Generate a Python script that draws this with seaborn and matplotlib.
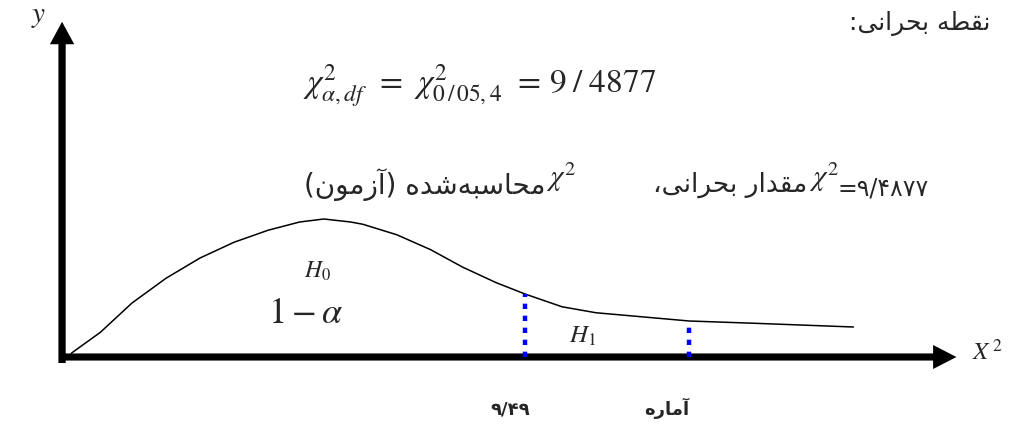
# Chi-square critical region sketch
# H0 / H1 regions with critical value and test statistic

import numpy as np
import pandas as pd
import matplotlib
matplotlib.use('Agg')
import matplotlib.pyplot as plt
import seaborn as sb

# curve (x in chi-square units, y as density)
curve_x = [0.15, 0.75, 1.4, 2.1, 2.8, 3.5, 4.2, 4.85, 5.35, 5.9, 6.15, 6.85,
           7.55, 8.2, 8.9, 9.49, 10.25, 10.95, 11.65, 12.87, 14.2, 16.25]
curve_y = [0.005, 0.033, 0.072, 0.105, 0.132, 0.153, 0.169, 0.180, 0.184, 0.180,
           0.177, 0.163, 0.143, 0.120, 0.099, 0.084, 0.067, 0.059, 0.055, 0.048,
           0.045, 0.040]

crit_value = 9.49        # critical value
stat_value = 12.87       # computed statistic (position only)

title_fa = 'نقطه بحرانی:'
formula = (r'$\chi^{2}_{\alpha,df}\;\, = \;\,\chi^{2}_{0\,/\,05,4}\;\, ='
           r'\, 9\;/\;4877$')
computed_fa = 'محاسبه\u200cشده (آزمون)'
critical_fa = 'مقدار بحرانی،'
critical_num = '=۹/۴۸۷۷'
crit_label = '۹/۴۹'
stat_label = 'آماره'

# Arabic presentation forms: isolated, final, initial, medial
FORMS = {
    '\u0622': ('\uFE81', '\uFE82', None, None),
    '\u0627': ('\uFE8D', '\uFE8E', None, None),
    '\u0628': ('\uFE8F', '\uFE90', '\uFE91', '\uFE92'),
    '\u062D': ('\uFEA1', '\uFEA2', '\uFEA3', '\uFEA4'),
    '\u062F': ('\uFEA9', '\uFEAA', None, None),
    '\u0631': ('\uFEAD', '\uFEAE', None, None),
    '\u0632': ('\uFEAF', '\uFEB0', None, None),
    '\u0633': ('\uFEB1', '\uFEB2', '\uFEB3', '\uFEB4'),
    '\u0634': ('\uFEB5', '\uFEB6', '\uFEB7', '\uFEB8'),
    '\u0637': ('\uFEC1', '\uFEC2', '\uFEC3', '\uFEC4'),
    '\u0642': ('\uFED5', '\uFED6', '\uFED7', '\uFED8'),
    '\u0645': ('\uFEE1', '\uFEE2', '\uFEE3', '\uFEE4'),
    '\u0646': ('\uFEE5', '\uFEE6', '\uFEE7', '\uFEE8'),
    '\u0647': ('\uFEE9', '\uFEEA', '\uFEEB', '\uFEEC'),
    '\u0648': ('\uFEED', '\uFEEE', None, None),
    '\u06CC': ('\uFBFC', '\uFBFD', '\uFBFE', '\uFBFF'),
}
DIGITS = set('۰۱۲۳۴۵۶۷۸۹0123456789/')
MIRROR = {'(': ')', ')': '('}


def fa(text):
    # contextual shaping
    shaped = []
    for i, ch in enumerate(text):
        if ch == '\u200c':
            continue
        if ch not in FORMS:
            shaped.append(ch)
            continue
        f = FORMS[ch]
        prev = text[i - 1] if i > 0 else ''
        nxt = text[i + 1] if i + 1 < len(text) else ''
        jp = prev in FORMS and FORMS[prev][2] is not None
        jn = nxt in FORMS and f[2] is not None
        if jp and jn:
            shaped.append(f[3])
        elif jp:
            shaped.append(f[1])
        elif jn:
            shaped.append(f[2])
        else:
            shaped.append(f[0])
    # visual order: reverse, keep digit runs left to right
    runs, cur = [], ''
    for ch in shaped:
        if cur and ((ch in DIGITS) != (cur[-1] in DIGITS)):
            runs.append(cur)
            cur = ''
        cur += ch
    if cur:
        runs.append(cur)
    out = ''
    for r in reversed(runs):
        if r[0] in DIGITS:
            out += r
        else:
            out += ''.join(MIRROR.get(c, c) for c in reversed(r))
    return out


sb.set_theme(style='white')
plt.rcParams['mathtext.fontset'] = 'stix'
plt.rcParams['font.family'] = ['DejaVu Sans']

W, H = 1016, 425
fig = plt.figure(figsize=(W / 100, H / 100), dpi=100)
ax = fig.add_axes([0, 0, 1, 1])

# pixel mapping of the picture
x0, y0, sx, sy = 64, 357, 48.58, 750.0
ax.set_xlim(-x0 / sx, (W - x0) / sx)
ax.set_ylim(-(H - y0) / sy, y0 / sy)
ax.set_axis_off()

def P(px, py):
    return px / W, 1 - py / H

curve = pd.DataFrame({'x': curve_x, 'y': curve_y})
sb.lineplot(data=curve, x='x', y='y', sort=False, estimator=None,
            color='black', lw=1.1, ax=ax)

# dotted lines up to the curve
for v in [crit_value, stat_value]:
    top = np.interp(v, curve_x, curve_y)
    sb.lineplot(x=[v, v], y=[0.0, top], color='#0000ff', lw=3.2,
                ax=ax, estimator=None)
    ax.lines[-1].set_linestyle((0, (1.2, 1.5)))
    ax.lines[-1].set_dash_capstyle('butt')

# axes arrows
ax.arrow(-0.04, -0.008, 0, 0.455, width=0.15, head_width=0.5,
         head_length=0.03, length_includes_head=True, color='black', lw=0)
ax.arrow(-0.08, 0.0, 18.45, 0, width=0.0095, head_width=0.032,
         head_length=0.48, length_includes_head=True, color='black', lw=0)

fig.text(*P(39, 16), r'$y$', fontsize=21, ha='center', va='center')
fig.text(*P(988, 352), r'$X^{\,2}$', fontsize=18, ha='center', va='center')

fig.text(*P(990, 24), fa(title_fa), fontsize=18, ha='right', va='center')
fig.text(*P(303, 86), formula, fontsize=24, ha='left', va='center')

fig.text(*P(546, 185), fa(computed_fa), fontsize=20, ha='right', va='center')
fig.text(*P(546, 177), r'$\chi^{2}$', fontsize=21, ha='left', va='center')
fig.text(*P(807, 185), fa(critical_fa), fontsize=19, ha='right', va='center')
fig.text(*P(809, 177), r'$\chi^{2}$', fontsize=21, ha='left', va='center')
fig.text(*P(838, 188), critical_num, fontsize=17, ha='left', va='center')

fig.text(*P(318, 271), r'$H_{\mathrm{0}}$', fontsize=17, ha='center', va='center')
fig.text(*P(306, 313), r'$1-\alpha$', fontsize=26, ha='center', va='center')
fig.text(*P(583, 336), r'$H_{\mathrm{1}}$', fontsize=18, ha='center', va='center')

fig.text(*P(510, 410), fa(crit_label), fontsize=13, fontweight='bold',
         ha='center', va='center')
fig.text(*P(667, 408), fa(stat_label), fontsize=13, fontweight='bold',
         ha='center', va='center')

fig.savefig('out.png', dpi=100, facecolor='white')
